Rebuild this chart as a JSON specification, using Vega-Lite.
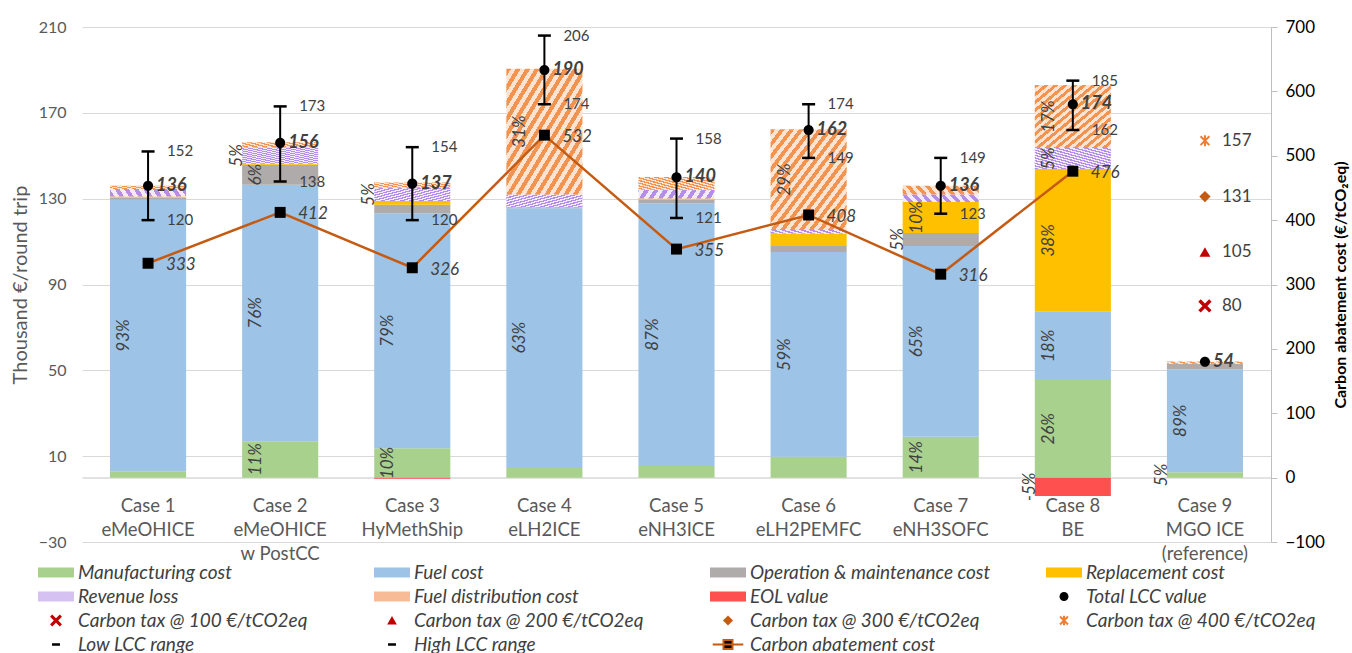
{
  "$schema": "https://vega.github.io/schema/vega-lite/v6.json",
  "width": 1189,
  "height": 515,
  "autosize": "none",
  "padding": {"left": 82, "top": 27, "right": 81, "bottom": 111},
  "config": {"font": "Lato", "view": {"stroke": null}},
  "datasets": {
    "bars": [
      {"case": "Case 1|eMeOHICE", "series": "Manufacturing cost", "value": 3, "pct": null},
      {"case": "Case 1|eMeOHICE", "series": "Fuel cost", "value": 126.5, "pct": "93%"},
      {"case": "Case 1|eMeOHICE", "series": "Operation & maintenance cost", "value": 1, "pct": null},
      {"case": "Case 1|eMeOHICE", "series": "Replacement cost", "value": 0.5, "pct": null},
      {"case": "Case 1|eMeOHICE", "series": "Revenue loss", "value": 3.5, "pct": null},
      {"case": "Case 1|eMeOHICE", "series": "Fuel distribution cost", "value": 1.5, "pct": null},
      {"case": "Case 2|eMeOHICE|w PostCC", "series": "Manufacturing cost", "value": 17, "pct": "11%"},
      {"case": "Case 2|eMeOHICE|w PostCC", "series": "Fuel cost", "value": 119.5, "pct": "76%"},
      {"case": "Case 2|eMeOHICE|w PostCC", "series": "Operation & maintenance cost", "value": 9.3, "pct": "6%"},
      {"case": "Case 2|eMeOHICE|w PostCC", "series": "Replacement cost", "value": 0.5, "pct": null},
      {"case": "Case 2|eMeOHICE|w PostCC", "series": "Revenue loss", "value": 7.7, "pct": "5%"},
      {"case": "Case 2|eMeOHICE|w PostCC", "series": "Fuel distribution cost", "value": 2.3, "pct": null},
      {"case": "Case 3|HyMethShip", "series": "Manufacturing cost", "value": 13.7, "pct": "10%"},
      {"case": "Case 3|HyMethShip", "series": "Fuel cost", "value": 109.5, "pct": "79%"},
      {"case": "Case 3|HyMethShip", "series": "Operation & maintenance cost", "value": 4, "pct": null},
      {"case": "Case 3|HyMethShip", "series": "Replacement cost", "value": 1.7, "pct": null},
      {"case": "Case 3|HyMethShip", "series": "Revenue loss", "value": 6.2, "pct": "5%"},
      {"case": "Case 3|HyMethShip", "series": "Fuel distribution cost", "value": 2.4, "pct": null},
      {"case": "Case 3|HyMethShip", "series": "EOL value", "value": -0.5, "pct": null},
      {"case": "Case 4|eLH2ICE", "series": "Manufacturing cost", "value": 5, "pct": null},
      {"case": "Case 4|eLH2ICE", "series": "Fuel cost", "value": 120.5, "pct": "63%"},
      {"case": "Case 4|eLH2ICE", "series": "Operation & maintenance cost", "value": 0.5, "pct": null},
      {"case": "Case 4|eLH2ICE", "series": "Revenue loss", "value": 6, "pct": null},
      {"case": "Case 4|eLH2ICE", "series": "Fuel distribution cost", "value": 58.5, "pct": "31%"},
      {"case": "Case 5|eNH3ICE", "series": "Manufacturing cost", "value": 5.4, "pct": null},
      {"case": "Case 5|eNH3ICE", "series": "Fuel cost", "value": 122.5, "pct": "87%"},
      {"case": "Case 5|eNH3ICE", "series": "Operation & maintenance cost", "value": 1.6, "pct": null},
      {"case": "Case 5|eNH3ICE", "series": "Replacement cost", "value": 0.6, "pct": null},
      {"case": "Case 5|eNH3ICE", "series": "Revenue loss", "value": 4, "pct": null},
      {"case": "Case 5|eNH3ICE", "series": "Fuel distribution cost", "value": 6, "pct": null},
      {"case": "Case 6|eLH2PEMFC", "series": "Manufacturing cost", "value": 9.7, "pct": null},
      {"case": "Case 6|eLH2PEMFC", "series": "Fuel cost", "value": 95.4, "pct": "59%"},
      {"case": "Case 6|eLH2PEMFC", "series": "Operation & maintenance cost", "value": 2.8, "pct": null},
      {"case": "Case 6|eLH2PEMFC", "series": "Replacement cost", "value": 5.9, "pct": null},
      {"case": "Case 6|eLH2PEMFC", "series": "Revenue loss", "value": 1.6, "pct": null},
      {"case": "Case 6|eLH2PEMFC", "series": "Fuel distribution cost", "value": 47, "pct": "29%"},
      {"case": "Case 7|eNH3SOFC", "series": "Manufacturing cost", "value": 19, "pct": "14%"},
      {"case": "Case 7|eNH3SOFC", "series": "Fuel cost", "value": 89, "pct": "65%"},
      {"case": "Case 7|eNH3SOFC", "series": "Operation & maintenance cost", "value": 6, "pct": "5%"},
      {"case": "Case 7|eNH3SOFC", "series": "Replacement cost", "value": 14.5, "pct": "10%"},
      {"case": "Case 7|eNH3SOFC", "series": "Revenue loss", "value": 3.4, "pct": null},
      {"case": "Case 7|eNH3SOFC", "series": "Fuel distribution cost", "value": 4.1, "pct": null},
      {"case": "Case 8|BE", "series": "Manufacturing cost", "value": 45.5, "pct": "26%"},
      {"case": "Case 8|BE", "series": "Fuel cost", "value": 31.8, "pct": "18%"},
      {"case": "Case 8|BE", "series": "Replacement cost", "value": 66.5, "pct": "38%"},
      {"case": "Case 8|BE", "series": "Revenue loss", "value": 9.8, "pct": "5%"},
      {"case": "Case 8|BE", "series": "Fuel distribution cost", "value": 29.4, "pct": "17%"},
      {"case": "Case 8|BE", "series": "EOL value", "value": -8.6, "pct": "-5%"},
      {"case": "Case 9|MGO ICE|(reference)", "series": "Manufacturing cost", "value": 2.5, "pct": "5%"},
      {"case": "Case 9|MGO ICE|(reference)", "series": "Fuel cost", "value": 48, "pct": "89%"},
      {"case": "Case 9|MGO ICE|(reference)", "series": "Operation & maintenance cost", "value": 2.6, "pct": null},
      {"case": "Case 9|MGO ICE|(reference)", "series": "Fuel distribution cost", "value": 1, "pct": null}
    ],
    "pts": [
      {"case": "Case 1|eMeOHICE", "series": "Total LCC value", "value": 136},
      {"case": "Case 2|eMeOHICE|w PostCC", "series": "Total LCC value", "value": 156},
      {"case": "Case 3|HyMethShip", "series": "Total LCC value", "value": 137},
      {"case": "Case 4|eLH2ICE", "series": "Total LCC value", "value": 190},
      {"case": "Case 5|eNH3ICE", "series": "Total LCC value", "value": 140},
      {"case": "Case 6|eLH2PEMFC", "series": "Total LCC value", "value": 162},
      {"case": "Case 7|eNH3SOFC", "series": "Total LCC value", "value": 136},
      {"case": "Case 8|BE", "series": "Total LCC value", "value": 174},
      {"case": "Case 9|MGO ICE|(reference)", "series": "Total LCC value", "value": 54},
      {"case": "Case 9|MGO ICE|(reference)", "series": "Carbon tax @ 100 €/tCO2eq", "value": 80},
      {"case": "Case 9|MGO ICE|(reference)", "series": "Carbon tax @ 200 €/tCO2eq", "value": 105},
      {"case": "Case 9|MGO ICE|(reference)", "series": "Carbon tax @ 300 €/tCO2eq", "value": 131},
      {"case": "Case 9|MGO ICE|(reference)", "series": "Carbon tax @ 400 €/tCO2eq", "value": 157}
    ],
    "rng": [
      {"case": "Case 1|eMeOHICE", "low": 120, "high": 152},
      {"case": "Case 2|eMeOHICE|w PostCC", "low": 138, "high": 173},
      {"case": "Case 3|HyMethShip", "low": 120, "high": 154},
      {"case": "Case 4|eLH2ICE", "low": 174, "high": 206},
      {"case": "Case 5|eNH3ICE", "low": 121, "high": 158},
      {"case": "Case 6|eLH2PEMFC", "low": 149, "high": 174},
      {"case": "Case 7|eNH3SOFC", "low": 123, "high": 149},
      {"case": "Case 8|BE", "low": 162, "high": 185}
    ],
    "abate": [
      {"case": "Case 1|eMeOHICE", "cost": 333},
      {"case": "Case 2|eMeOHICE|w PostCC", "cost": 412},
      {"case": "Case 3|HyMethShip", "cost": 326},
      {"case": "Case 4|eLH2ICE", "cost": 532},
      {"case": "Case 5|eNH3ICE", "cost": 355},
      {"case": "Case 6|eLH2PEMFC", "cost": 408},
      {"case": "Case 7|eNH3SOFC", "cost": 316},
      {"case": "Case 8|BE", "cost": 476}
    ]
  },
  "layer": [
    {
      "data": {"name": "bars"},
      "transform": [
        {"calculate": "indexof(['Manufacturing cost','Fuel cost','Operation & maintenance cost','Replacement cost','Revenue loss','Fuel distribution cost','EOL value'], datum.series)", "as": "ord"}
      ],
      "mark": {"type": "bar"},
      "encoding": {
        "x": {
          "field": "case", "type": "nominal",
          "scale": {"domain": ["Case 1|eMeOHICE","Case 2|eMeOHICE|w PostCC","Case 3|HyMethShip","Case 4|eLH2ICE","Case 5|eNH3ICE","Case 6|eLH2PEMFC","Case 7|eNH3SOFC","Case 8|BE","Case 9|MGO ICE|(reference)"], "paddingInner": 0.424, "paddingOuter": 0.212},
          "axis": {"title": null, "labelExpr": "split(datum.label, '|')", "labelAngle": 0, "labelFontSize": 18.5, "labelColor": "#595959", "labelLineHeight": 24, "labelPadding": 19, "labelBaseline": "top", "ticks": false, "domain": true, "domainColor": "#D9D9D9", "domainWidth": 1.5, "offset": -64.4, "grid": false}
        },
        "y": {
          "field": "value", "type": "quantitative", "stack": "zero",
          "scale": {"domain": [-30, 210], "nice": false, "zero": false},
          "axis": {"orient": "left", "values": [-30, 10, 50, 90, 130, 170, 210], "grid": true, "gridColor": "#D9D9D9", "gridWidth": 1.2, "domain": false, "ticks": false, "labelFontSize": 16, "labelColor": "#595959", "labelPadding": 16, "title": "Thousand €/round trip", "titleFontSize": 20, "titleFontWeight": "normal", "titleColor": "#595959", "titlePadding": 8}
        },
        "color": {
          "condition": [
            {"test": "datum.series === 'Fuel distribution cost'", "value": {"gradient": "linear", "x1": 0, "y1": 0, "x2": 1, "y2": 1, "stops": [
              {"offset": 0, "color": "#F2934F"}, {"offset": 0.03125, "color": "#F2934F"}, {"offset": 0.03125, "color": "#FCE3D2"}, {"offset": 0.0625, "color": "#FCE3D2"},
              {"offset": 0.0625, "color": "#F2934F"}, {"offset": 0.09375, "color": "#F2934F"}, {"offset": 0.09375, "color": "#FCE3D2"}, {"offset": 0.125, "color": "#FCE3D2"},
              {"offset": 0.125, "color": "#F2934F"}, {"offset": 0.15625, "color": "#F2934F"}, {"offset": 0.15625, "color": "#FCE3D2"}, {"offset": 0.1875, "color": "#FCE3D2"},
              {"offset": 0.1875, "color": "#F2934F"}, {"offset": 0.21875, "color": "#F2934F"}, {"offset": 0.21875, "color": "#FCE3D2"}, {"offset": 0.25, "color": "#FCE3D2"},
              {"offset": 0.25, "color": "#F2934F"}, {"offset": 0.28125, "color": "#F2934F"}, {"offset": 0.28125, "color": "#FCE3D2"}, {"offset": 0.3125, "color": "#FCE3D2"},
              {"offset": 0.3125, "color": "#F2934F"}, {"offset": 0.34375, "color": "#F2934F"}, {"offset": 0.34375, "color": "#FCE3D2"}, {"offset": 0.375, "color": "#FCE3D2"},
              {"offset": 0.375, "color": "#F2934F"}, {"offset": 0.40625, "color": "#F2934F"}, {"offset": 0.40625, "color": "#FCE3D2"}, {"offset": 0.4375, "color": "#FCE3D2"},
              {"offset": 0.4375, "color": "#F2934F"}, {"offset": 0.46875, "color": "#F2934F"}, {"offset": 0.46875, "color": "#FCE3D2"}, {"offset": 0.5, "color": "#FCE3D2"},
              {"offset": 0.5, "color": "#F2934F"}, {"offset": 0.53125, "color": "#F2934F"}, {"offset": 0.53125, "color": "#FCE3D2"}, {"offset": 0.5625, "color": "#FCE3D2"},
              {"offset": 0.5625, "color": "#F2934F"}, {"offset": 0.59375, "color": "#F2934F"}, {"offset": 0.59375, "color": "#FCE3D2"}, {"offset": 0.625, "color": "#FCE3D2"},
              {"offset": 0.625, "color": "#F2934F"}, {"offset": 0.65625, "color": "#F2934F"}, {"offset": 0.65625, "color": "#FCE3D2"}, {"offset": 0.6875, "color": "#FCE3D2"},
              {"offset": 0.6875, "color": "#F2934F"}, {"offset": 0.71875, "color": "#F2934F"}, {"offset": 0.71875, "color": "#FCE3D2"}, {"offset": 0.75, "color": "#FCE3D2"},
              {"offset": 0.75, "color": "#F2934F"}, {"offset": 0.78125, "color": "#F2934F"}, {"offset": 0.78125, "color": "#FCE3D2"}, {"offset": 0.8125, "color": "#FCE3D2"},
              {"offset": 0.8125, "color": "#F2934F"}, {"offset": 0.84375, "color": "#F2934F"}, {"offset": 0.84375, "color": "#FCE3D2"}, {"offset": 0.875, "color": "#FCE3D2"},
              {"offset": 0.875, "color": "#F2934F"}, {"offset": 0.90625, "color": "#F2934F"}, {"offset": 0.90625, "color": "#FCE3D2"}, {"offset": 0.9375, "color": "#FCE3D2"},
              {"offset": 0.9375, "color": "#F2934F"}, {"offset": 0.96875, "color": "#F2934F"}, {"offset": 0.96875, "color": "#FCE3D2"}, {"offset": 1, "color": "#FCE3D2"}]}},
            {"test": "datum.series === 'Revenue loss'", "value": {"gradient": "linear", "x1": 0, "y1": 1, "x2": 1, "y2": 0, "stops": [
              {"offset": 0, "color": "#B48DE8"}, {"offset": 0.03125, "color": "#B48DE8"}, {"offset": 0.03125, "color": "#F1EAFB"}, {"offset": 0.0625, "color": "#F1EAFB"},
              {"offset": 0.0625, "color": "#B48DE8"}, {"offset": 0.09375, "color": "#B48DE8"}, {"offset": 0.09375, "color": "#F1EAFB"}, {"offset": 0.125, "color": "#F1EAFB"},
              {"offset": 0.125, "color": "#B48DE8"}, {"offset": 0.15625, "color": "#B48DE8"}, {"offset": 0.15625, "color": "#F1EAFB"}, {"offset": 0.1875, "color": "#F1EAFB"},
              {"offset": 0.1875, "color": "#B48DE8"}, {"offset": 0.21875, "color": "#B48DE8"}, {"offset": 0.21875, "color": "#F1EAFB"}, {"offset": 0.25, "color": "#F1EAFB"},
              {"offset": 0.25, "color": "#B48DE8"}, {"offset": 0.28125, "color": "#B48DE8"}, {"offset": 0.28125, "color": "#F1EAFB"}, {"offset": 0.3125, "color": "#F1EAFB"},
              {"offset": 0.3125, "color": "#B48DE8"}, {"offset": 0.34375, "color": "#B48DE8"}, {"offset": 0.34375, "color": "#F1EAFB"}, {"offset": 0.375, "color": "#F1EAFB"},
              {"offset": 0.375, "color": "#B48DE8"}, {"offset": 0.40625, "color": "#B48DE8"}, {"offset": 0.40625, "color": "#F1EAFB"}, {"offset": 0.4375, "color": "#F1EAFB"},
              {"offset": 0.4375, "color": "#B48DE8"}, {"offset": 0.46875, "color": "#B48DE8"}, {"offset": 0.46875, "color": "#F1EAFB"}, {"offset": 0.5, "color": "#F1EAFB"},
              {"offset": 0.5, "color": "#B48DE8"}, {"offset": 0.53125, "color": "#B48DE8"}, {"offset": 0.53125, "color": "#F1EAFB"}, {"offset": 0.5625, "color": "#F1EAFB"},
              {"offset": 0.5625, "color": "#B48DE8"}, {"offset": 0.59375, "color": "#B48DE8"}, {"offset": 0.59375, "color": "#F1EAFB"}, {"offset": 0.625, "color": "#F1EAFB"},
              {"offset": 0.625, "color": "#B48DE8"}, {"offset": 0.65625, "color": "#B48DE8"}, {"offset": 0.65625, "color": "#F1EAFB"}, {"offset": 0.6875, "color": "#F1EAFB"},
              {"offset": 0.6875, "color": "#B48DE8"}, {"offset": 0.71875, "color": "#B48DE8"}, {"offset": 0.71875, "color": "#F1EAFB"}, {"offset": 0.75, "color": "#F1EAFB"},
              {"offset": 0.75, "color": "#B48DE8"}, {"offset": 0.78125, "color": "#B48DE8"}, {"offset": 0.78125, "color": "#F1EAFB"}, {"offset": 0.8125, "color": "#F1EAFB"},
              {"offset": 0.8125, "color": "#B48DE8"}, {"offset": 0.84375, "color": "#B48DE8"}, {"offset": 0.84375, "color": "#F1EAFB"}, {"offset": 0.875, "color": "#F1EAFB"},
              {"offset": 0.875, "color": "#B48DE8"}, {"offset": 0.90625, "color": "#B48DE8"}, {"offset": 0.90625, "color": "#F1EAFB"}, {"offset": 0.9375, "color": "#F1EAFB"},
              {"offset": 0.9375, "color": "#B48DE8"}, {"offset": 0.96875, "color": "#B48DE8"}, {"offset": 0.96875, "color": "#F1EAFB"}, {"offset": 1, "color": "#F1EAFB"}]}}
          ],
          "field": "series", "type": "nominal",
          "scale": {"domain": ["Manufacturing cost","Fuel cost","Operation & maintenance cost","Replacement cost","Revenue loss","Fuel distribution cost","EOL value","Total LCC value","Carbon tax @ 100 €/tCO2eq","Carbon tax @ 200 €/tCO2eq","Carbon tax @ 300 €/tCO2eq","Carbon tax @ 400 €/tCO2eq","Low LCC range","High LCC range","Carbon abatement cost"],
            "range": ["#A9D18E","#9DC3E6","#AFABAB","#FFC000","#D6C2F2","#F7BC96","#FF5050","#000000","#C00000","#C00000","#C55A11","#ED7D31","#000000","#000000","#000000"]}},
        "order": {"field": "ord", "type": "quantitative"}
      }
    },
    {
      "data": {"name": "bars"},
      "transform": [
        {"calculate": "indexof(['Manufacturing cost','Fuel cost','Operation & maintenance cost','Replacement cost','Revenue loss','Fuel distribution cost','EOL value'], datum.series)", "as": "ord"},
        {"stack": "value", "groupby": ["case"], "sort": [{"field": "ord", "order": "ascending"}], "as": ["v0", "v1"]},
        {"calculate": "(datum.v0 + datum.v1) / 2", "as": "mid"},
        {"filter": "datum.pct != null && abs(datum.value) >= 9"}
      ],
      "mark": {"type": "text", "angle": 270, "fontStyle": "italic", "fontSize": 17, "color": "#404040", "xOffset": -24},
      "encoding": {
        "x": {"field": "case", "type": "nominal"},
        "y": {"field": "mid", "type": "quantitative", "axis": null, "scale": {"domain": [-30, 210], "nice": false, "zero": false}},
        "text": {"field": "pct"}
      }
    },
    {
      "data": {"name": "bars"},
      "transform": [
        {"calculate": "indexof(['Manufacturing cost','Fuel cost','Operation & maintenance cost','Replacement cost','Revenue loss','Fuel distribution cost','EOL value'], datum.series)", "as": "ord"},
        {"stack": "value", "groupby": ["case"], "sort": [{"field": "ord", "order": "ascending"}], "as": ["v0", "v1"]},
        {"calculate": "(datum.v0 + datum.v1) / 2", "as": "mid"},
        {"filter": "datum.pct != null && abs(datum.value) < 9"}
      ],
      "mark": {"type": "text", "angle": 270, "fontStyle": "italic", "fontSize": 17, "color": "#404040", "xOffset": -43},
      "encoding": {
        "x": {"field": "case", "type": "nominal"},
        "y": {"field": "mid", "type": "quantitative", "axis": null, "scale": {"domain": [-30, 210], "nice": false, "zero": false}},
        "text": {"field": "pct"}
      }
    },
    {
      "data": {"name": "abate"},
      "mark": {"type": "line", "color": "#C55A11", "strokeWidth": 2.5},
      "encoding": {
        "x": {"field": "case", "type": "nominal"},
        "y": {"field": "cost", "type": "quantitative",
          "scale": {"domain": [-100, 700], "nice": false, "zero": false},
          "axis": {"orient": "right", "values": [-100, 0, 100, 200, 300, 400, 500, 600, 700], "grid": false, "domain": true, "domainColor": "#BFBFBF", "ticks": true, "tickColor": "#BFBFBF", "tickSize": 6, "labelFontSize": 17, "labelColor": "#000000", "labelPadding": 8, "title": "Carbon abatement cost (€/tCO₂eq)", "titleFontSize": 16, "titleFontWeight": "bold", "titleColor": "#000000", "titleAngle": 270, "titlePadding": 24}}
      }
    },
    {
      "data": {"name": "abate"},
      "mark": {"type": "point", "shape": "square", "filled": true, "size": 120, "color": "#000000", "opacity": 1},
      "encoding": {
        "x": {"field": "case", "type": "nominal"},
        "y": {"field": "cost", "type": "quantitative", "axis": null, "scale": {"domain": [-100, 700], "nice": false, "zero": false}}
      }
    },
    {
      "data": {"name": "abate"},
      "mark": {"type": "text", "align": "left", "baseline": "middle", "fontStyle": "italic", "fontSize": 17, "color": "#404040", "xOffset": 18, "yOffset": 2},
      "encoding": {
        "x": {"field": "case", "type": "nominal"},
        "y": {"field": "cost", "type": "quantitative", "axis": null, "scale": {"domain": [-100, 700], "nice": false, "zero": false}},
        "text": {"field": "cost", "type": "quantitative", "format": "d"}
      }
    },
    {
      "data": {"name": "rng"},
      "mark": {"type": "rule", "color": "#000000", "strokeWidth": 2},
      "encoding": {
        "x": {"field": "case", "type": "nominal"},
        "y": {"field": "low", "type": "quantitative", "axis": null, "scale": {"domain": [-30, 210], "nice": false, "zero": false}},
        "y2": {"field": "high"}
      }
    },
    {
      "data": {"name": "rng"},
      "transform": [{"fold": ["low", "high"], "as": ["k", "v"]}],
      "mark": {"type": "tick", "color": "#000000", "size": 13, "thickness": 2.5, "orient": "horizontal", "opacity": 1},
      "encoding": {
        "x": {"field": "case", "type": "nominal"},
        "y": {"field": "v", "type": "quantitative", "axis": null, "scale": {"domain": [-30, 210], "nice": false, "zero": false}}
      }
    },
    {
      "data": {"name": "rng"},
      "transform": [{"fold": ["low", "high"], "as": ["k", "v"]}],
      "mark": {"type": "text", "align": "left", "baseline": "middle", "fontSize": 15, "color": "#404040", "xOffset": 19},
      "encoding": {
        "x": {"field": "case", "type": "nominal"},
        "y": {"field": "v", "type": "quantitative", "axis": null, "scale": {"domain": [-30, 210], "nice": false, "zero": false}},
        "text": {"field": "v", "type": "quantitative", "format": "d"}
      }
    },
    {
      "data": {"name": "pts"},
      "transform": [{"filter": "datum.series != 'Carbon tax @ 400 €/tCO2eq'"}],
      "mark": {"type": "point", "filled": true, "size": 500, "opacity": 1, "strokeWidth": 0},
      "encoding": {
        "x": {"field": "case", "type": "nominal"},
        "y": {"field": "value", "type": "quantitative", "axis": null, "scale": {"domain": [-30, 210], "nice": false, "zero": false}},
        "color": {"field": "series", "type": "nominal",
          "scale": {"domain": ["Manufacturing cost","Fuel cost","Operation & maintenance cost","Replacement cost","Revenue loss","Fuel distribution cost","EOL value","Total LCC value","Carbon tax @ 100 €/tCO2eq","Carbon tax @ 200 €/tCO2eq","Carbon tax @ 300 €/tCO2eq","Carbon tax @ 400 €/tCO2eq","Low LCC range","High LCC range","Carbon abatement cost"],
            "range": ["#A9D18E","#9DC3E6","#AFABAB","#FFC000","#D6C2F2","#F7BC96","#FF5050","#000000","#C00000","#C00000","#C55A11","#ED7D31","#000000","#000000","#000000"]},
          "legend": {"title": null, "orient": "none", "legendX": -44, "legendY": 534.5, "direction": "horizontal", "columns": 4, "gridAlign": "all", "columnPadding": 51, "rowPadding": 3, "padding": 0, "symbolSize": 400, "symbolStrokeWidth": 2, "symbolOffset": 7, "labelOffset": 11, "labelFontSize": 19, "labelFontStyle": "italic", "labelColor": "#404040", "labelFont": "Lato", "labelLimit": 400,
            "encoding": {"symbols": {
              "stroke": {"value": {"expr": "datum.value === 'Carbon abatement cost' ? '#C55A11' : (datum.value === 'Carbon tax @ 400 €/tCO2eq' ? '#ED7D31' : 'transparent')"}},
              "strokeWidth": {"value": 2},
              "opacity": {"value": 1}
            }}}
        },
        "shape": {"field": "series", "type": "nominal",
          "scale": {"domain": ["Manufacturing cost","Fuel cost","Operation & maintenance cost","Replacement cost","Revenue loss","Fuel distribution cost","EOL value","Total LCC value","Carbon tax @ 100 €/tCO2eq","Carbon tax @ 200 €/tCO2eq","Carbon tax @ 300 €/tCO2eq","Carbon tax @ 400 €/tCO2eq","Low LCC range","High LCC range","Carbon abatement cost"],
            "range": ["M-1.8,-0.5H1.8V0.5H-1.8Z","M-1.8,-0.5H1.8V0.5H-1.8Z","M-1.8,-0.5H1.8V0.5H-1.8Z","M-1.8,-0.5H1.8V0.5H-1.8Z","M-1.8,-0.5H1.8V0.5H-1.8Z","M-1.8,-0.5H1.8V0.5H-1.8Z","M-1.8,-0.5H1.8V0.5H-1.8Z",
              "M0.45,0A0.45,0.45,0,1,1,-0.45,0A0.45,0.45,0,1,1,0.45,0Z",
              "M-0.594,-0.378L-0.378,-0.594L0,-0.216L0.378,-0.594L0.594,-0.378L0.216,0L0.594,0.378L0.378,0.594L0,0.216L-0.378,0.594L-0.594,0.378L-0.216,0Z",
              "M0,-0.45L0.486,0.396H-0.486Z",
              "M0,-0.504L0.504,0L0,0.504L-0.504,0Z",
              "M-0.396,-0.396L0.396,0.396M-0.396,0.396L0.396,-0.396M0,-0.486V0.486",
              "M-0.396,-0.126H0.396V0.126H-0.396Z",
              "M-0.396,-0.126H0.396V0.126H-0.396Z",
              "M-1.53,0H1.53M-0.45,-0.45H0.45V0.45H-0.45Z"]},
          "legend": {"title": null, "orient": "none", "legendX": -44, "legendY": 534.5, "direction": "horizontal", "columns": 4, "gridAlign": "all", "columnPadding": 51, "rowPadding": 3, "padding": 0, "symbolSize": 400, "symbolStrokeWidth": 2, "symbolOffset": 7, "labelOffset": 11, "labelFontSize": 19, "labelFontStyle": "italic", "labelColor": "#404040", "labelFont": "Lato", "labelLimit": 400,
            "encoding": {"symbols": {
              "stroke": {"value": {"expr": "datum.value === 'Carbon abatement cost' ? '#C55A11' : (datum.value === 'Carbon tax @ 400 €/tCO2eq' ? '#ED7D31' : 'transparent')"}},
              "strokeWidth": {"value": 2},
              "opacity": {"value": 1}
            }}}
        }
      }
    },
    {
      "data": {"name": "pts"},
      "transform": [{"filter": "datum.series == 'Carbon tax @ 400 €/tCO2eq'"}],
      "mark": {"type": "point", "filled": false, "size": 1600, "opacity": 1, "stroke": "#ED7D31", "strokeWidth": 2, "shape": "M-0.22,-0.22L0.22,0.22M-0.22,0.22L0.22,-0.22M0,-0.27V0.27"},
      "encoding": {
        "x": {"field": "case", "type": "nominal"},
        "y": {"field": "value", "type": "quantitative", "axis": null, "scale": {"domain": [-30, 210], "nice": false, "zero": false}}
      }
    },
    {
      "data": {"name": "pts"},
      "transform": [{"filter": "datum.series == 'Total LCC value'"}],
      "mark": {"type": "text", "align": "left", "baseline": "middle", "fontSize": 18, "fontWeight": "bold", "fontStyle": "italic", "color": "#404040", "xOffset": 8},
      "encoding": {
        "x": {"field": "case", "type": "nominal"},
        "y": {"field": "value", "type": "quantitative", "axis": null, "scale": {"domain": [-30, 210], "nice": false, "zero": false}},
        "text": {"field": "value", "type": "quantitative", "format": "d"}
      }
    },
    {
      "data": {"name": "pts"},
      "transform": [{"filter": "datum.series != 'Total LCC value'"}],
      "mark": {"type": "text", "align": "left", "baseline": "middle", "fontSize": 17, "color": "#404040", "xOffset": 17},
      "encoding": {
        "x": {"field": "case", "type": "nominal"},
        "y": {"field": "value", "type": "quantitative", "axis": null, "scale": {"domain": [-30, 210], "nice": false, "zero": false}},
        "text": {"field": "value", "type": "quantitative", "format": "d"}
      }
    }
  ],
  "resolve": {"scale": {"y": "independent"}}
}
